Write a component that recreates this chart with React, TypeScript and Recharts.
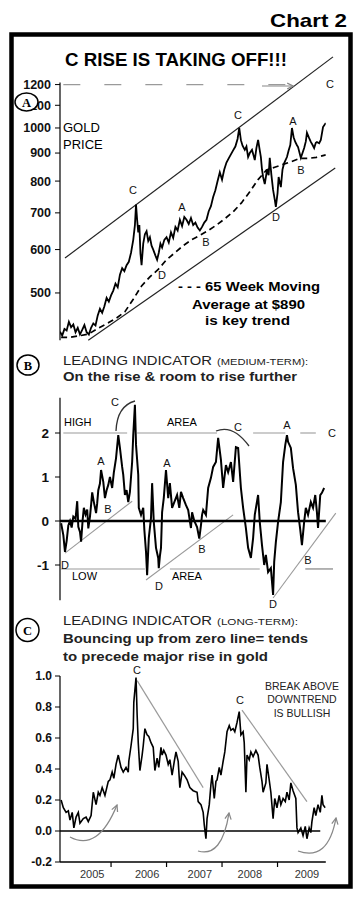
import React from 'react';
import { LineChart, Line, XAxis, YAxis, ReferenceLine } from 'recharts';

// values: [decimal year, value]
const goldPrice: [number, number][] = [
  [2005.08, 425], [2005.12, 418], [2005.16, 430], [2005.2, 427], [2005.24, 443], [2005.28, 433],
  [2005.32, 438], [2005.36, 424], [2005.4, 432], [2005.44, 420], [2005.48, 428], [2005.52, 437],
  [2005.56, 424], [2005.6, 420], [2005.64, 432], [2005.68, 440], [2005.72, 436], [2005.76, 455],
  [2005.8, 468], [2005.84, 460], [2005.88, 473], [2005.92, 490], [2005.96, 482], [2006.0, 495],
  [2006.04, 505], [2006.08, 520], [2006.12, 512], [2006.16, 540], [2006.2, 555], [2006.24, 548],
  [2006.28, 562], [2006.32, 570], [2006.36, 592], [2006.4, 625], [2006.43, 665], [2006.45, 725],
  [2006.47, 680], [2006.49, 645], [2006.51, 665], [2006.53, 590], [2006.55, 562], [2006.58, 615],
  [2006.61, 640], [2006.64, 648], [2006.67, 622], [2006.7, 632], [2006.73, 610], [2006.76, 600],
  [2006.8, 585], [2006.83, 575], [2006.86, 592], [2006.89, 615], [2006.92, 605], [2006.96, 625],
  [2007.0, 632], [2007.04, 618], [2007.08, 645], [2007.12, 630], [2007.16, 660], [2007.2, 650],
  [2007.24, 680], [2007.28, 662], [2007.32, 688], [2007.36, 680], [2007.4, 668], [2007.44, 685],
  [2007.48, 665], [2007.52, 672], [2007.56, 658], [2007.6, 650], [2007.64, 660], [2007.68, 672],
  [2007.72, 680], [2007.76, 705], [2007.8, 720], [2007.84, 748], [2007.88, 770], [2007.92, 800],
  [2007.96, 830], [2008.0, 805], [2008.04, 840], [2008.08, 865], [2008.12, 880], [2008.16, 895],
  [2008.2, 910], [2008.24, 925], [2008.28, 955], [2008.31, 1000], [2008.34, 950], [2008.37, 928],
  [2008.41, 912], [2008.44, 925], [2008.47, 885], [2008.5, 900], [2008.54, 912], [2008.57, 890],
  [2008.59, 874], [2008.62, 920], [2008.65, 951], [2008.68, 910], [2008.7, 885], [2008.72, 840],
  [2008.74, 814], [2008.77, 790], [2008.81, 838], [2008.84, 820], [2008.86, 882], [2008.89, 820],
  [2008.92, 771], [2008.95, 740], [2008.97, 718], [2009.0, 760], [2009.02, 814], [2009.06, 780],
  [2009.09, 840], [2009.12, 863], [2009.17, 885], [2009.2, 910], [2009.23, 931], [2009.26, 1000],
  [2009.29, 962], [2009.32, 943], [2009.35, 930], [2009.37, 923], [2009.42, 882], [2009.45, 900],
  [2009.48, 919], [2009.51, 945], [2009.53, 980], [2009.57, 958], [2009.6, 943], [2009.63, 932],
  [2009.66, 919], [2009.69, 940], [2009.71, 943], [2009.75, 938], [2009.78, 951], [2009.82, 1004],
  [2009.87, 1021],
];

const goldMovingAvg: [number, number][] = [
  [2005.1, 415], [2005.25, 415], [2005.45, 418], [2005.6, 421], [2005.75, 430], [2005.95, 441],
  [2006.1, 450], [2006.25, 462], [2006.4, 487], [2006.55, 515], [2006.7, 535], [2006.85, 552],
  [2007.0, 575], [2007.15, 592], [2007.3, 610], [2007.45, 625], [2007.6, 637], [2007.75, 650],
  [2007.9, 665], [2008.05, 683], [2008.2, 703], [2008.35, 730], [2008.5, 765], [2008.65, 805],
  [2008.8, 838], [2008.95, 848], [2009.1, 858], [2009.25, 868], [2009.4, 880], [2009.55, 880],
  [2009.7, 884], [2009.87, 893],
];

const mediumTerm: [number, number][] = [
  [2005.1, -0.05], [2005.14, -0.32], [2005.17, -0.7], [2005.2, -0.45], [2005.23, -0.1], [2005.26, 0.0],
  [2005.29, -0.15], [2005.32, 0.1], [2005.36, 0.05], [2005.39, 0.45], [2005.41, -0.13], [2005.44, -0.25],
  [2005.46, -0.47], [2005.49, 0.05], [2005.51, 0.3], [2005.54, 0.15], [2005.57, 0.26], [2005.59, -0.17],
  [2005.62, 0.1], [2005.64, 0.36], [2005.66, 0.65], [2005.69, 0.43], [2005.73, 0.18], [2005.75, 0.4],
  [2005.77, 0.7], [2005.8, 0.85], [2005.82, 1.16], [2005.86, 0.89], [2005.89, 0.52], [2005.92, 0.7],
  [2005.95, 0.82], [2005.98, 1.0], [2006.02, 0.75], [2006.05, 1.1], [2006.09, 1.43], [2006.13, 1.95],
  [2006.16, 1.66], [2006.2, 1.23], [2006.22, 1.05], [2006.25, 0.59], [2006.28, 0.7], [2006.31, 0.43],
  [2006.34, 0.66], [2006.38, 1.34], [2006.4, 1.95], [2006.43, 2.64], [2006.45, 1.73], [2006.49, 1.05],
  [2006.5, 0.3], [2006.54, 0.14], [2006.58, 0.3], [2006.6, -0.2], [2006.63, -0.7], [2006.65, -1.23],
  [2006.68, -0.39], [2006.72, 0.07], [2006.74, 0.86], [2006.77, -0.02], [2006.81, -0.61], [2006.85, -0.84],
  [2006.86, -1.07], [2006.88, -0.8], [2006.9, -0.61], [2006.92, 0.2], [2006.95, 0.52], [2006.99, 1.16],
  [2007.03, 0.52], [2007.06, 0.86], [2007.1, 0.3], [2007.14, 0.43], [2007.19, 0.59], [2007.23, 0.3],
  [2007.26, 0.66], [2007.3, 0.52], [2007.35, 0.36], [2007.39, 0.25], [2007.44, -0.16], [2007.46, 0.2],
  [2007.5, 0.0], [2007.55, -0.14], [2007.59, -0.4], [2007.62, -0.1], [2007.64, 0.14], [2007.66, 0.25],
  [2007.71, 0.14], [2007.75, 0.75], [2007.8, 0.98], [2007.84, 1.23], [2007.89, 1.34], [2007.93, 1.89],
  [2007.98, 1.39], [2008.02, 0.75], [2008.07, 1.27], [2008.11, 1.11], [2008.16, 1.34], [2008.2, 0.89],
  [2008.25, 1.68], [2008.29, 1.66], [2008.34, 0.75], [2008.38, 0.3], [2008.43, -0.16], [2008.47, -0.61],
  [2008.52, -0.84], [2008.56, -0.39], [2008.59, 0.14], [2008.65, 0.59], [2008.68, -0.02], [2008.72, -0.55],
  [2008.76, -1.0], [2008.79, -0.77], [2008.83, -1.16], [2008.88, -1.07], [2008.92, -1.68], [2008.94, -0.93],
  [2008.97, -0.48], [2009.01, -0.02], [2009.06, 0.43], [2009.1, 1.34], [2009.14, 1.73], [2009.17, 1.95],
  [2009.19, 1.8], [2009.24, 1.66], [2009.28, 1.2], [2009.33, 0.82], [2009.37, 0.2], [2009.41, -0.2],
  [2009.44, -0.55], [2009.48, -0.02], [2009.51, 0.3], [2009.55, 0.14], [2009.6, 0.43], [2009.64, 0.3],
  [2009.68, 0.59], [2009.71, 0.2], [2009.73, -0.16], [2009.77, 0.59], [2009.8, 0.64], [2009.84, 0.75],
];

const longTerm: [number, number][] = [
  [2005.1, 0.2], [2005.14, 0.15], [2005.19, 0.12], [2005.23, 0.13], [2005.26, 0.07], [2005.3, 0.12],
  [2005.33, 0.02], [2005.37, 0.09], [2005.41, 0.12], [2005.44, 0.05], [2005.5, 0.08], [2005.55, 0.09],
  [2005.59, 0.06], [2005.64, 0.1], [2005.68, 0.25], [2005.73, 0.17], [2005.77, 0.25], [2005.8, 0.23],
  [2005.84, 0.28], [2005.89, 0.23], [2005.95, 0.32], [2005.98, 0.33], [2006.02, 0.38], [2006.05, 0.34],
  [2006.09, 0.43], [2006.13, 0.49], [2006.18, 0.41], [2006.22, 0.38], [2006.27, 0.41], [2006.31, 0.38],
  [2006.32, 0.45], [2006.36, 0.55], [2006.4, 0.66], [2006.41, 0.83], [2006.45, 0.99], [2006.47, 0.75],
  [2006.49, 0.57], [2006.52, 0.39], [2006.56, 0.49], [2006.58, 0.55], [2006.61, 0.66], [2006.65, 0.62],
  [2006.68, 0.61], [2006.72, 0.57], [2006.76, 0.54], [2006.79, 0.39], [2006.83, 0.47], [2006.86, 0.41],
  [2006.9, 0.54], [2006.92, 0.49], [2006.95, 0.52], [2006.99, 0.49], [2007.03, 0.43], [2007.06, 0.46],
  [2007.1, 0.36], [2007.14, 0.45], [2007.17, 0.51], [2007.21, 0.45], [2007.24, 0.28], [2007.28, 0.38],
  [2007.32, 0.36], [2007.37, 0.33], [2007.42, 0.28], [2007.48, 0.26], [2007.55, 0.25], [2007.57, 0.19],
  [2007.62, 0.17], [2007.66, 0.12], [2007.68, 0.04], [2007.71, -0.05], [2007.73, 0.08], [2007.77, 0.17],
  [2007.8, 0.3], [2007.82, 0.36], [2007.86, 0.21], [2007.89, 0.32], [2007.91, 0.33], [2007.95, 0.41],
  [2007.98, 0.36], [2008.02, 0.45], [2008.05, 0.51], [2008.09, 0.64], [2008.13, 0.68], [2008.16, 0.65],
  [2008.2, 0.66], [2008.23, 0.64], [2008.27, 0.7], [2008.31, 0.77], [2008.34, 0.62], [2008.38, 0.64],
  [2008.4, 0.57], [2008.43, 0.25], [2008.45, 0.49], [2008.49, 0.46], [2008.52, 0.51], [2008.56, 0.48],
  [2008.61, 0.52], [2008.65, 0.49], [2008.68, 0.41], [2008.72, 0.32], [2008.74, 0.25], [2008.79, 0.31],
  [2008.81, 0.43], [2008.85, 0.33], [2008.88, 0.25], [2008.92, 0.08], [2008.95, 0.21], [2008.99, 0.15],
  [2009.03, 0.23], [2009.06, 0.17], [2009.1, 0.21], [2009.14, 0.19], [2009.17, 0.25], [2009.21, 0.2],
  [2009.24, 0.31], [2009.28, 0.26], [2009.33, 0.21], [2009.35, 0.02], [2009.37, -0.01], [2009.42, 0.02],
  [2009.46, -0.03], [2009.5, 0.03], [2009.53, -0.05], [2009.57, 0.02], [2009.6, -0.01], [2009.62, 0.06],
  [2009.66, 0.15], [2009.69, 0.1], [2009.73, 0.17], [2009.77, 0.12], [2009.8, 0.23], [2009.82, 0.17],
  [2009.86, 0.15],
];

const goldTicks = [500, 600, 700, 800, 900, 1000, 1100, 1200];
const mediumTicks = [-1, 0, 1, 2];
const longTicks = [-0.2, 0, 0.2, 0.4, 0.6, 0.8, 1.0];
const yearMarks = [2006, 2007, 2008, 2009];
const yearLabels = ['2005', '2006', '2007', '2008', '2009'];
const yearLabelAt = [2005.66, 2006.65, 2007.6, 2008.5, 2009.53];

const FONT = '"Liberation Sans", Arial, Helvetica, sans-serif';
const SERIF = '"Liberation Serif", "DejaVu Serif", serif';
const X_DOMAIN: [number, number] = [2005.08, 2009.87];
const W = 359;
const RIGHT = 33.2;

const rows = (s: [number, number][]) => s.map(([t, v]) => ({ t, v }));

const tickFont = { fontSize: 12.5, fontWeight: 700, fill: '#111', fontFamily: FONT };

const YearTick = (props: any) => {
  const { x, y, payload } = props;
  const i = yearLabelAt.indexOf(payload.value);
  if (i >= 0) {
    return (
      <text x={x} y={y + 16} textAnchor="middle" fontSize={11} fill="#333" fontFamily={FONT}>
        {yearLabels[i]}
      </text>
    );
  }
  return <line x1={x} y1={y} x2={x} y2={y + 5} stroke="#000" strokeWidth={1.2} />;
};

// annotation letters (pixel positions on the page)
const letters: [string, number, number][] = [
  ['C', 133, 190], ['A', 182, 207], ['B', 206, 242], ['D', 162, 275], ['C', 238, 115],
  ['A', 293, 121], ['B', 301, 170], ['D', 276, 217], ['C', 330, 84],
  ['C', 115, 402], ['A', 101, 461], ['B', 108, 509], ['A', 167, 463], ['D', 65, 565],
  ['D', 159, 586], ['C', 238, 427], ['A', 287, 425], ['C', 332, 433], ['B', 202, 549],
  ['B', 308, 560], ['D', 273, 604],
  ['C', 137, 670], ['C', 240, 700],
];

const grey = '#9a9a9a';

export default function App() {
  return (
    <div style={{ position: 'absolute', left: 0, top: 0, width: W, height: 899, background: '#fff' }}>
      {/* A: gold price */}
      <div style={{ position: 'absolute', left: 0, top: 0 }}>
        <LineChart width={W} height={345} margin={{ top: 82.6, right: RIGHT, bottom: 4.8, left: 0 }}>
          <XAxis type="number" dataKey="t" domain={X_DOMAIN} allowDataOverflow hide />
          <YAxis
            type="number"
            scale="log"
            domain={[410, 1210]}
            allowDataOverflow
            ticks={goldTicks}
            interval={0}
            width={60}
            tick={tickFont}
            tickSize={5}
            tickMargin={4}
            axisLine={{ stroke: '#000', strokeWidth: 1.2 }}
            tickLine={{ stroke: '#000' }}
          />
          <ReferenceLine
            segment={[{ x: 2005.14, y: 1200 }, { x: 2009.22, y: 1200 }]}
            stroke={grey}
            strokeWidth={1.2}
            strokeDasharray="17 24"
            ifOverflow="visible"
          />
          <ReferenceLine
            segment={[{ x: 2005.17, y: 579 }, { x: 2010.0, y: 1348 }]}
            stroke="#222"
            strokeWidth={1.2}
            ifOverflow="visible"
          />
          <ReferenceLine
            segment={[{ x: 2005.59, y: 410 }, { x: 2010.04, y: 845 }]}
            stroke="#222"
            strokeWidth={1.2}
            ifOverflow="visible"
          />
          <Line
            data={rows(goldMovingAvg)}
            dataKey="v"
            stroke="#000"
            strokeWidth={1.7}
            strokeDasharray="6 4"
            dot={false}
            isAnimationActive={false}
          />
          <Line
            data={rows(goldPrice)}
            dataKey="v"
            stroke="#000"
            strokeWidth={1.8}
            dot={false}
            isAnimationActive={false}
          />
        </LineChart>
      </div>

      {/* B: medium-term indicator */}
      <div style={{ position: 'absolute', left: 0, top: 390 }}>
        <LineChart width={W} height={215} margin={{ top: 7.8, right: RIGHT, bottom: 4.8, left: 0 }}>
          <XAxis type="number" dataKey="t" domain={X_DOMAIN} allowDataOverflow hide />
          <YAxis
            type="number"
            domain={[-1.8, 2.8]}
            allowDataOverflow
            ticks={mediumTicks}
            interval={0}
            width={60}
            tick={{ ...tickFont, fontSize: 13.5 }}
            tickSize={5}
            tickMargin={6}
            axisLine={{ stroke: '#000', strokeWidth: 1.2 }}
            tickLine={{ stroke: '#000' }}
          />
          <ReferenceLine segment={[{ x: 2005.14, y: 2 }, { x: 2006.29, y: 2 }]} stroke={grey} strokeWidth={1.1} ifOverflow="visible" />
          <ReferenceLine segment={[{ x: 2006.47, y: 2 }, { x: 2007.91, y: 2 }]} stroke={grey} strokeWidth={1.1} ifOverflow="visible" />
          <ReferenceLine segment={[{ x: 2008.56, y: 2 }, { x: 2009.14, y: 2 }]} stroke={grey} strokeWidth={1.1} ifOverflow="visible" />
          <ReferenceLine segment={[{ x: 2009.41, y: 2 }, { x: 2009.69, y: 2 }]} stroke="#c8c8c8" strokeWidth={2} ifOverflow="visible" />
          <ReferenceLine segment={[{ x: 2005.1, y: -1.09 }, { x: 2006.61, y: -1.09 }]} stroke={grey} strokeWidth={1.1} ifOverflow="visible" />
          <ReferenceLine segment={[{ x: 2007.06, y: -1.09 }, { x: 2008.68, y: -1.09 }]} stroke={grey} strokeWidth={1.1} ifOverflow="visible" />
          <ReferenceLine segment={[{ x: 2009.5, y: -1.09 }, { x: 2010.0, y: -1.09 }]} stroke="#777" strokeWidth={1.1} ifOverflow="visible" />
          <ReferenceLine segment={[{ x: 2005.17, y: -0.73 }, { x: 2006.38, y: 0.45 }]} stroke={grey} strokeWidth={1.1} ifOverflow="visible" />
          <ReferenceLine segment={[{ x: 2006.63, y: -1.34 }, { x: 2008.2, y: 0.14 }]} stroke={grey} strokeWidth={1.1} ifOverflow="visible" />
          <ReferenceLine segment={[{ x: 2008.92, y: -1.75 }, { x: 2010.05, y: 0.18 }]} stroke={grey} strokeWidth={1.1} ifOverflow="visible" />
          <ReferenceLine y={0} stroke="#000" strokeWidth={2.5} />
          <Line
            data={rows(mediumTerm)}
            dataKey="v"
            stroke="#000"
            strokeWidth={2}
            dot={false}
            isAnimationActive={false}
          />
        </LineChart>
      </div>

      {/* C: long-term indicator */}
      <div style={{ position: 'absolute', left: 0, top: 670 }}>
        <LineChart width={W} height={215} margin={{ top: 6, right: RIGHT, bottom: 0, left: 0 }}>
          <XAxis
            type="number"
            dataKey="t"
            domain={X_DOMAIN}
            allowDataOverflow
            ticks={[...yearMarks, ...yearLabelAt]}
            interval={0}
            height={23}
            tick={YearTick}
            tickLine={false}
            tickSize={0}
            tickMargin={0}
            axisLine={{ stroke: '#000', strokeWidth: 1.5 }}
          />
          <YAxis
            type="number"
            domain={[-0.2, 1.0]}
            allowDataOverflow
            ticks={longTicks}
            interval={0}
            width={60}
            tick={{ ...tickFont, fontSize: 12 }}
            tickFormatter={(v: number) => v.toFixed(1)}
            tickSize={5}
            tickMargin={3}
            axisLine={{ stroke: '#000', strokeWidth: 1.2 }}
            tickLine={{ stroke: '#000' }}
          />
          <ReferenceLine segment={[{ x: 2006.47, y: 0.97 }, { x: 2007.66, y: 0.28 }]} stroke={grey} strokeWidth={1.2} ifOverflow="visible" />
          <ReferenceLine segment={[{ x: 2008.36, y: 0.78 }, { x: 2009.53, y: 0.19 }]} stroke={grey} strokeWidth={1.2} ifOverflow="visible" />
          <ReferenceLine segment={[{ x: 2005.08, y: 0 }, { x: 2009.77, y: 0 }]} stroke="#000" strokeWidth={1.5} ifOverflow="visible" />
          <Line
            data={rows(longTerm)}
            dataKey="v"
            stroke="#000"
            strokeWidth={1.6}
            dot={false}
            isAnimationActive={false}
          />
        </LineChart>
      </div>

      {/* frame, headings and hand-drawn notes */}
      <svg
        width={W}
        height={899}
        style={{ position: 'absolute', left: 0, top: 0, pointerEvents: 'none' }}
        fontFamily={FONT}
      >
        <defs>
          <marker id="ah" viewBox="0 0 10 10" refX="9" refY="5" markerWidth="6" markerHeight="6" orient="auto">
            <path d="M1,1 L9,5 L1,9" fill="none" stroke="#888" strokeWidth="1.6" />
          </marker>
        </defs>
        <rect x={11.5} y={34.5} width={339} height={852} fill="none" stroke="#000" strokeWidth={4.5} />
        <text x={270} y={26.5} fontSize={19} fontWeight={700} textLength={77} lengthAdjust="spacingAndGlyphs">
          Chart 2
        </text>
        <text x={65} y={66} fontSize={17.5} fontWeight={700} textLength={222} lengthAdjust="spacingAndGlyphs">
          C RISE IS TAKING OFF!!!
        </text>

        {/* A */}
        <line x1={262} y1={86} x2={293} y2={86} stroke={grey} strokeWidth={1.2} markerEnd="url(#ah)" />
        <ellipse cx={26.5} cy={102} rx={11.5} ry={9} fill="#fff" stroke="#000" strokeWidth={1.5} />
        <text x={26.5} y={106.5} fontSize={12.5} fontWeight={700} fontFamily={SERIF} textAnchor="middle">A</text>
        <text x={63} y={132} fontSize={13}>GOLD</text>
        <text x={63} y={149} fontSize={13}>PRICE</text>
        <text x={178} y={291} fontSize={13} fontWeight={700} textLength={142} lengthAdjust="spacingAndGlyphs">
          - - - 65 Week Moving
        </text>
        <text x={192} y={309} fontSize={13} fontWeight={700} textLength={113} lengthAdjust="spacingAndGlyphs">
          Average at $890
        </text>
        <text x={205} y={325} fontSize={13} fontWeight={700} textLength={85} lengthAdjust="spacingAndGlyphs">
          is key trend
        </text>

        {/* B */}
        <ellipse cx={28} cy={365} rx={11} ry={10} fill="#fff" stroke="#000" strokeWidth={1.5} />
        <text x={28} y={369.5} fontSize={12.5} fontWeight={700} fontFamily={SERIF} textAnchor="middle">B</text>
        <text x={63} y={365} fontSize={13} fill="#222" textLength={149} lengthAdjust="spacingAndGlyphs">LEADING INDICATOR</text>
        <text x={217} y={365} fontSize={8.5} fill="#222" textLength={91} lengthAdjust="spacingAndGlyphs">(MEDIUM-TERM):</text>
        <text x={63} y={381} fontSize={13} fontWeight={700} fill="#222" textLength={234} lengthAdjust="spacingAndGlyphs">
          On the rise &amp; room to rise further
        </text>
        <text x={64} y={426} fontSize={11}>HIGH</text>
        <text x={167} y={426} fontSize={11}>AREA</text>
        <text x={72} y={580} fontSize={11}>LOW</text>
        <text x={172} y={580} fontSize={11}>AREA</text>
        <path d="M116,431 Q117,406 135,401" fill="none" stroke="#333" strokeWidth={1.3} />
        <path d="M216,431 Q233,424 249,446" fill="none" stroke="#333" strokeWidth={1.3} />

        {/* C */}
        <ellipse cx={27.5} cy={630} rx={11.5} ry={11.5} fill="#fff" stroke="#000" strokeWidth={1.5} />
        <text x={27.5} y={634.5} fontSize={12.5} fontWeight={700} fontFamily={SERIF} textAnchor="middle">C</text>
        <text x={63} y={625} fontSize={13} fill="#222" textLength={149} lengthAdjust="spacingAndGlyphs">LEADING INDICATOR</text>
        <text x={217} y={625} fontSize={8.5} fill="#222" textLength={81} lengthAdjust="spacingAndGlyphs">(LONG-TERM):</text>
        <text x={63} y={643} fontSize={13} fontWeight={700} fill="#222" textLength={245} lengthAdjust="spacingAndGlyphs">
          Bouncing up from zero line= tends
        </text>
        <text x={63} y={661} fontSize={13} fontWeight={700} fill="#222" textLength={205} lengthAdjust="spacingAndGlyphs">
          to precede major rise in gold
        </text>
        <g fontSize={10.5} fill="#222" textAnchor="middle">
          <text x={302} y={690}>BREAK ABOVE</text>
          <text x={302} y={703}>DOWNTREND</text>
          <text x={302} y={717}>IS BULLISH</text>
        </g>
        <g fill="none" stroke="#888" strokeWidth={1.3}>
          <path d="M70,837 Q98,852 117,805" markerEnd="url(#ah)" />
          <path d="M198,851 Q222,858 229,813" markerEnd="url(#ah)" />
          <path d="M298,851 Q328,862 336,818" markerEnd="url(#ah)" />
        </g>

        <g fontSize={11} fill="#111" textAnchor="middle">
          {letters.map(([s, x, y], i) => (
            <text key={i} x={x} y={y + 4}>
              {s}
            </text>
          ))}
        </g>
      </svg>
    </div>
  );
}
